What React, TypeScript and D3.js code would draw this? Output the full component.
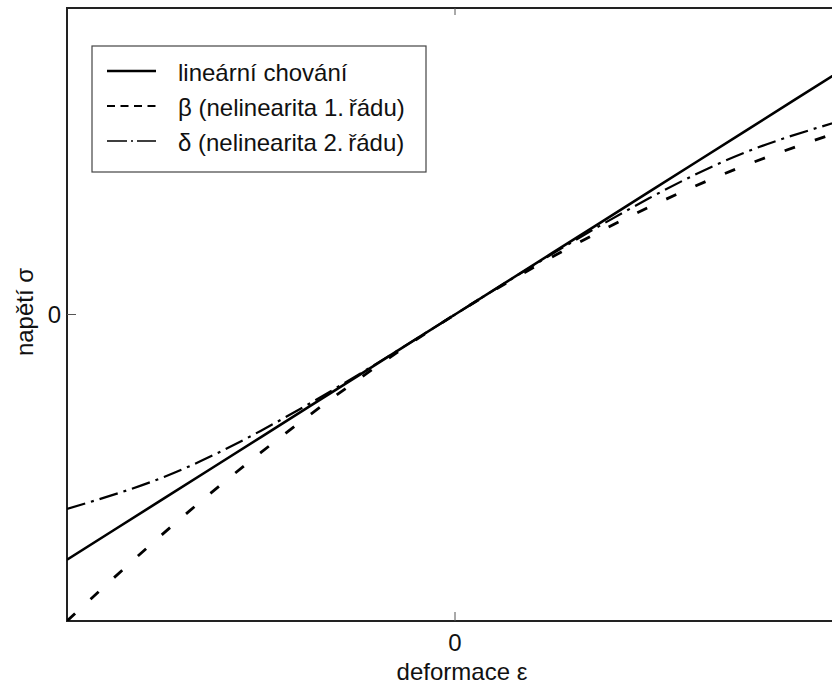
import React from "react";
import * as d3 from "d3";

const epsValues = [-1, -0.75, -0.5, -0.25, 0, 0.25, 0.5, 0.75, 1];
const linearValues = [-0.8, -0.6, -0.4, -0.2, 0, 0.2, 0.4, 0.6, 0.8];
const betaValues = [-1.0, -0.7125, -0.45, -0.2125, 0, 0.1875, 0.35, 0.4875, 0.6];
const deltaValues = [-0.634, -0.53, -0.379, -0.197, 0, 0.197, 0.379, 0.53, 0.634];
const xTicks = [0];
const yTicks = [0];
const legendLabels = ["lineární chování", "β (nelinearita 1.\u2009řádu)", "δ (nelinearita 2.\u2009řádu)"];

const W = 832;
const H = 684;
const FONT = "'Liberation Sans', Arial, sans-serif";
const FS = 24;

export default function App() {
  const x = d3.scaleLinear().domain([-1, 1]).range([67, 843]);
  const y = d3.scaleLinear().domain([-1, 1]).range([621, 8]);

  const mk = (vals: number[]) =>
    d3
      .line<number>()
      .x((_, i) => x(epsValues[i]))
      .y((d) => y(d))
      .curve(d3.curveNatural)(vals) as string;

  const series = [
    { vals: linearValues, dash: "none", w: 2.6 },
    { vals: betaValues, dash: "11 21", w: 2.8 },
    { vals: deltaValues, dash: "19 6 3 6", w: 2.2 },
  ];
  const legendDash = ["none", "8 5.5", "20 4 2 4"];
  const legendW = [2.6, 2, 1.6];

  return (
    <svg
      width={W}
      height={H}
      style={{ position: "absolute", left: 0, top: 0, background: "#fff" }}
      fontFamily={FONT}
    >
      <defs>
        <clipPath id="plotclip">
          <rect x={67} y={8} width={843 - 67} height={621 - 8} />
        </clipPath>
      </defs>
      <rect x={0} y={0} width={W} height={H} fill="#fff" />
      {/* frame */}
      <rect x={67} y={8} width={843 - 67} height={621 - 8} fill="none" stroke="#222" strokeWidth={2} />
      {/* ticks */}
      {xTicks.map((t) => (
        <g key={"xt" + t}>
          <line x1={x(t)} x2={x(t)} y1={621} y2={612} stroke="#555" strokeWidth={1} />
          <line x1={x(t)} x2={x(t)} y1={8} y2={15} stroke="#555" strokeWidth={1} />
          <text x={x(t)} y={651} textAnchor="middle" fontSize={FS} fill="#111">
            {t}
          </text>
        </g>
      ))}
      {yTicks.map((t) => (
        <g key={"yt" + t}>
          <line x1={67} x2={76} y1={y(t)} y2={y(t)} stroke="#555" strokeWidth={1} />
          <text x={61} y={y(t)} dy="0.36em" textAnchor="end" fontSize={FS} fill="#111">
            {t}
          </text>
        </g>
      ))}
      <text x={462} y={680} textAnchor="middle" fontSize={FS} fill="#111">
        deformace ε
      </text>
      <text
        transform={`translate(33,${312}) rotate(-90)`}
        textAnchor="middle"
        fontSize={FS}
        fill="#111"
      >
        napětí σ
      </text>
      {/* curves */}
      <g clipPath="url(#plotclip)">
        {series.map((s, i) => (
          <path
            key={i}
            d={mk(s.vals)}
            fill="none"
            stroke="#000"
            strokeWidth={s.w}
            strokeDasharray={s.dash}
          />
        ))}
      </g>
      {/* legend */}
      <rect x={92} y={46} width={334} height={126} fill="#fff" stroke="#444" strokeWidth={1.2} />
      {legendLabels.map((lab, i) => {
        const ly = 72 + i * 35;
        return (
          <g key={lab}>
            <line
              x1={107}
              x2={156}
              y1={ly - 1}
              y2={ly - 1}
              stroke="#000"
              strokeWidth={legendW[i]}
              strokeDasharray={legendDash[i]}
            />
            <text x={178} y={ly} dy="0.36em" fontSize={FS} fill="#111">
              {lab}
            </text>
          </g>
        );
      })}
    </svg>
  );
}
